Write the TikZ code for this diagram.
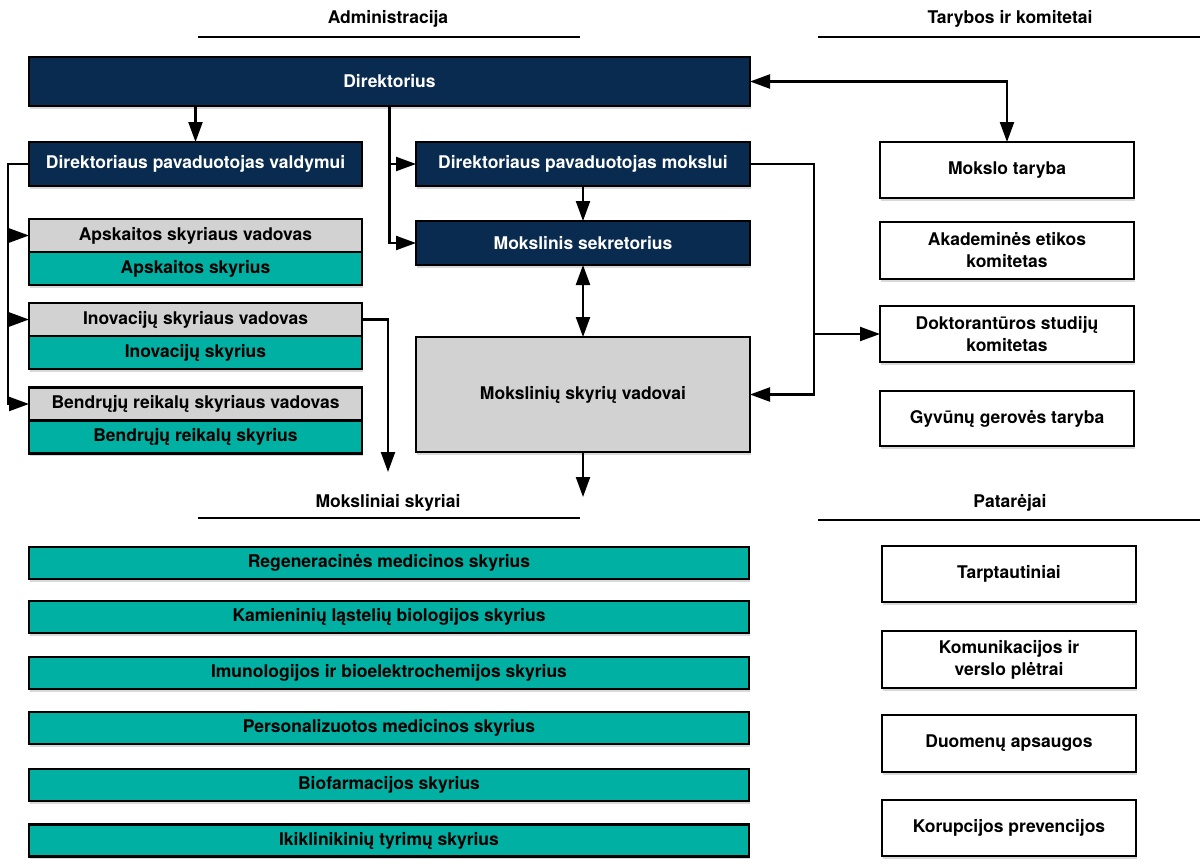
\documentclass[tikz,border=0pt]{standalone}
\usepackage{fontspec}
\setmainfont{TeX Gyre Heros}
\usetikzlibrary{arrows.meta,shadows}
\definecolor{navy}{HTML}{0A2B50}
\definecolor{teal}{HTML}{00B0A2}
\definecolor{lgrey}{HTML}{D2D2D2}
\tikzset{
  base/.style={draw=black, line width=2.4pt, font=\fontsize{17.5}{22}\selectfont\bfseries, align=center, inner sep=0pt, outer sep=0pt,
    drop shadow={shadow xshift=1pt, shadow yshift=-2.5pt, opacity=0.3}},
  navybox/.style={base, fill=navy, text=white},
  greybox/.style={base, fill=lgrey, text=black},
  tealbox/.style={base, fill=teal, text=black},
  whitebox/.style={base, fill=white, text=black},
  hdr/.style={font=\fontsize{17.5}{20}\selectfont\bfseries, inner sep=0pt},
  hline/.style={line width=2pt},
  arr/.style={line width=2.2pt, -{Triangle[length=20pt,width=14pt]}},
  arrb/.style={line width=2.2pt, {Triangle[length=20pt,width=14pt]}-{Triangle[length=20pt,width=14pt]}}
}
\begin{document}
\begin{tikzpicture}[x=1pt,y=-1pt]
\useasboundingbox (0,0) rectangle (1200,865);
% headers
\node[hdr] (hadm) at (388,19) {Administracija};
\node[hdr] (htar) at (1010,19) {Tarybos ir komitetai};
\node[hdr] (hmok) at (388,503) {Moksliniai skyriai};
\node[hdr] (hpat) at (1010,503) {Patarėjai};
\coordinate (l1a) at (198,37); \coordinate (l1b) at (580,37);
\coordinate (l2a) at (818,37); \coordinate (l2b) at (1200,37);
\coordinate (l3a) at (198,518); \coordinate (l3b) at (580,518);
\coordinate (l4a) at (818,520); \coordinate (l4b) at (1200,520);
\draw[hline] (l1a) -- (l1b);
\draw[hline] (l2a) -- (l2b);
\draw[hline] (l3a) -- (l3b);
\draw[hline] (l4a) -- (l4b);
% administration
\node[navybox, minimum width=721pt, minimum height=49pt] (dir) at (389.5,81.5) {Direktorius};
\node[navybox, minimum width=333pt, minimum height=44pt] (dpv) at (195.5,164) {Direktoriaus pavaduotojas valdymui};
\node[navybox, minimum width=334pt, minimum height=44pt] (dpm) at (583,164) {Direktoriaus pavaduotojas mokslui};
\node[navybox, minimum width=334pt, minimum height=44pt] (ms) at (583,243) {Mokslinis sekretorius};
\node[greybox, minimum width=334pt, minimum height=115pt] (msv) at (583,394.5) {Mokslinių skyrių vadovai};
\node[greybox, minimum width=333pt, minimum height=33pt] (apv) at (195.5,235.5) {Apskaitos skyriaus vadovas};
\node[tealbox, minimum width=333pt, minimum height=33pt] (aps) at (195.5,268.5) {Apskaitos skyrius};
\node[greybox, minimum width=333pt, minimum height=33pt] (inv) at (195.5,319.5) {Inovacijų skyriaus vadovas};
\node[tealbox, minimum width=333pt, minimum height=33pt] (ins) at (195.5,352.5) {Inovacijų skyrius};
\node[greybox, minimum width=333pt, minimum height=33pt] (bnv) at (195.5,404) {Bendrųjų reikalų skyriaus vadovas};
\node[tealbox, minimum width=333pt, minimum height=33pt] (bns) at (195.5,437) {Bendrųjų reikalų skyrius};
% councils
\node[whitebox, minimum width=254pt, minimum height=56pt] (mt) at (1007,170) {Mokslo taryba};
\node[whitebox, minimum width=254pt, minimum height=57pt] (ak) at (1007,250.5) {Akademinės etikos\\komitetas};
\node[whitebox, minimum width=254pt, minimum height=56pt] (dk) at (1007,334) {Doktorantūros studijų\\komitetas};
\node[whitebox, minimum width=254pt, minimum height=55pt] (gv) at (1007,418.5) {Gyvūnų gerovės taryba};
% advisers
\node[whitebox, minimum width=254pt, minimum height=56pt] (tp) at (1009,574) {Tarptautiniai};
\node[whitebox, minimum width=254pt, minimum height=57pt] (kv) at (1009,659.5) {Komunikacijos ir\\verslo plėtrai};
\node[whitebox, minimum width=254pt, minimum height=57pt] (da) at (1009,743.5) {Duomenų apsaugos};
\node[whitebox, minimum width=254pt, minimum height=56pt] (kp) at (1009,828) {Korupcijos prevencijos};
% scientific departments
\node[tealbox, minimum width=720pt, minimum height=32pt] (s1) at (389,563) {Regeneracinės medicinos skyrius};
\node[tealbox, minimum width=720pt, minimum height=32pt] (s2) at (389,617) {Kamieninių ląstelių biologijos skyrius};
\node[tealbox, minimum width=720pt, minimum height=32pt] (s3) at (389,673) {Imunologijos ir bioelektrochemijos skyrius};
\node[tealbox, minimum width=720pt, minimum height=32pt] (s4) at (389,728) {Personalizuotos medicinos skyrius};
\node[tealbox, minimum width=720pt, minimum height=32pt] (s5) at (389,785) {Biofarmacijos skyrius};
\node[tealbox, minimum width=720pt, minimum height=32pt] (s6) at (389,840.5) {Ikiklinikinių tyrimų skyrius};
% connectors
\coordinate (lx) at (8,0);
\coordinate (jx) at (814,0);
\coordinate (msvend) at (583,497);
\coordinate (invend) at (388,472);
\draw[arr] (dir.south -| dpv.north) -- (dpv.north);
\draw[arr] (dir.south) |- (ms.west);
\draw[arr] (dir.south) |- (dpm.west);
\draw[arr] (dpm.south) -- (ms.north);
\draw[arrb] (ms.south) -- (msv.north);
\draw[arr] (msv.south) -- (msvend);
\draw[arr] (dpm.east) -- (dpm.east -| jx) |- (msv.east);
\draw[arr] (jx |- dk.west) -- (dk.west);
\draw[arrb] (dir.east) -| (mt.north);
\draw[arr] (dpv.west) -- (dpv.west -| lx) |- (bnv.west);
\draw[arr] (lx |- apv.west) -- (apv.west);
\draw[arr] (lx |- inv.west) -- (inv.west);
\draw[arr] (inv.east) -| (invend);
\end{tikzpicture}
\end{document}
